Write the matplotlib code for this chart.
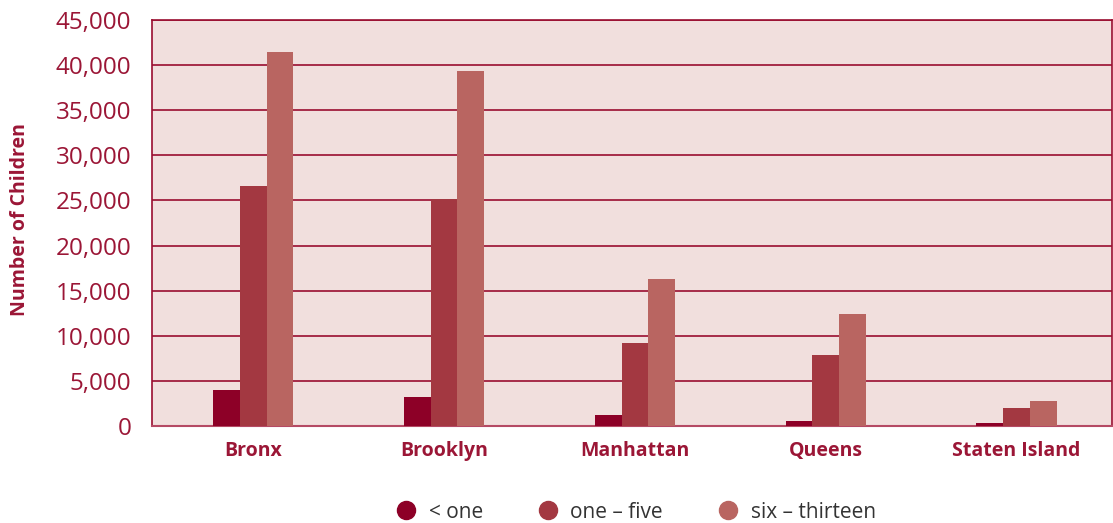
"""Grouped bar chart of children by borough and age group."""

import numpy as np
import matplotlib.pyplot as plt
from matplotlib.lines import Line2D
from matplotlib.ticker import FuncFormatter

boroughs = ["Bronx", "Brooklyn", "Manhattan", "Queens", "Staten Island"]
age_groups = ["< one", "one \u2013 five", "six \u2013 thirteen"]
under_one = [4000, 3200, 1250, 550, 330]
one_to_five = [26600, 25200, 9200, 7900, 2000]
six_to_thirteen = [41400, 39400, 16300, 12400, 2800]

colors = ["#8d0027", "#a33841", "#b96561"]
label_red = "#9b1636"
grid_red = "#9a0e30"
background = "#f1dfdd"

plt.rcParams["font.family"] = ["Open Sans", "DejaVu Sans"]

fig = plt.figure(figsize=(11.13, 5.23), dpi=100)
ax = fig.add_axes([152 / 1113, 1 - 426 / 523, 960 / 1113, 406 / 523])
ax.set_facecolor(background)

x = np.arange(len(boroughs))
width = 0.14
series = [under_one, one_to_five, six_to_thirteen]
for i, (values, color) in enumerate(zip(series, colors)):
    ax.bar(x + (i - 1) * width, values, width, color=color, zorder=3)

ax.set_ylim(0, 45000)
ax.set_xlim(-0.53, 4.5)
ax.set_yticks(range(0, 45001, 5000))
ax.yaxis.set_major_formatter(FuncFormatter(lambda v, _: f"{int(v):,}"))
ax.grid(axis="y", color=grid_red, linewidth=1.2, zorder=1)
ax.tick_params(axis="y", length=0, pad=15, labelsize=17.5, labelcolor=label_red)
ax.set_xticks(x)
ax.set_xticklabels(boroughs, fontsize=14, fontweight="bold", color=label_red)
ax.tick_params(axis="x", length=0, pad=11)

for side in ["left", "top", "right"]:
    ax.spines[side].set_color(grid_red)
    ax.spines[side].set_linewidth(1.2)
ax.spines["bottom"].set_color("#b54a64")
ax.spines["bottom"].set_linewidth(1.5)

fig.text(0.018, 1 - 220 / 523, "Number of Children", rotation=90,
         ha="center", va="center", fontsize=14, fontweight="bold",
         color=label_red)

handles = [
    Line2D([], [], marker="o", linestyle="none", markersize=13,
           markerfacecolor=c, markeredgecolor=c)
    for c in colors
]
fig.legend(handles, age_groups, loc="center", bbox_to_anchor=(0.571, 1 - 512 / 523),
           ncol=3, frameon=False, fontsize=15, labelcolor="#333333",
           handlelength=1.0, handletextpad=0.6, columnspacing=2.6)

fig.savefig("out.png", dpi=100)
